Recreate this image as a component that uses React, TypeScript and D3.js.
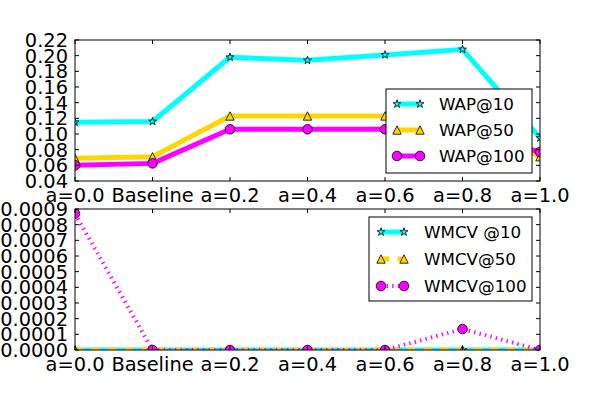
import React from "react";
import * as d3 from "d3";

const categories = ["a=0.0", "Baseline", "a=0.2", "a=0.4", "a=0.6", "a=0.8", "a=1.0"];

const wap10 = [0.115, 0.116, 0.198, 0.194, 0.201, 0.208, 0.095];
const wap50 = [0.069, 0.071, 0.123, 0.123, 0.123, 0.123, 0.071];
const wap100 = [0.06, 0.0625, 0.106, 0.106, 0.106, 0.106, 0.077];

const wmcv10 = [0, 0, 0, 0, 0, 0, 0];
const wmcv50 = [0, 0, 0, 0, 0, 0, 0];
const wmcv100 = [0.00087, 0, 0, 0, 0, 0.000134, 0];

const topTicks = [0.04, 0.06, 0.08, 0.1, 0.12, 0.14, 0.16, 0.18, 0.2, 0.22];
const bottomTicks = [0, 0.0001, 0.0002, 0.0003, 0.0004, 0.0005, 0.0006, 0.0007, 0.0008, 0.0009];

const CYAN = "#00ffff";
const GOLD = "#ffd700";
const MAGENTA = "#ff00ff";
const FONT = "DejaVu Sans";
const TICK_SIZE = 19.4;
const LEGEND_SIZE = 16.7;

type Shape = "star" | "triangle" | "circle";

function Marker({ shape, x, y, color }: { shape: Shape; x: number; y: number; color: string }) {
  if (shape === "circle") {
    return <circle cx={x} cy={y} r={4.8} fill={color} stroke="black" strokeWidth={0.8} />;
  }
  if (shape === "triangle") {
    const h = 4.2;
    return (
      <path
        d={`M${x},${y - h}L${x - h},${y + h}L${x + h},${y + h}Z`}
        fill={color}
        stroke="black"
        strokeWidth={0.8}
      />
    );
  }
  const star = d3.symbol(d3.symbolStar, 20)();
  return (
    <path d={star ?? ""} transform={`translate(${x},${y})`} fill={color} stroke="black" strokeWidth={0.8} />
  );
}

type Series = {
  name: string;
  values: number[];
  color: string;
  shape: Shape;
  width: number;
  dash?: string;
};

type Legend = {
  x0: number;
  x1: number;
  y0: number;
  y1: number;
  lineX0: number;
  lineX1: number;
  textX: number;
  rowY: number[];
};

function Panel({
  id,
  top,
  bottom,
  series,
  ticks,
  fmt,
  legend,
}: {
  id: string;
  top: number;
  bottom: number;
  series: Series[];
  ticks: number[];
  fmt: (v: number) => string;
  legend: Legend;
}) {
  const left = 75;
  const right = 540;
  const x = d3.scalePoint<string>().domain(categories).range([left, right]);
  const y = d3
    .scaleLinear()
    .domain([ticks[0], ticks[ticks.length - 1]])
    .range([bottom, top]);

  const line = d3
    .line<number>()
    .x((_, i) => x(categories[i]) as number)
    .y((d) => y(d));

  return (
    <g>
      <defs>
        <clipPath id={id}>
          <rect x={left} y={top} width={right - left} height={bottom - top} />
        </clipPath>
      </defs>
      <g clipPath={`url(#${id})`}>
        {series.map((s) => (
          <g key={s.name}>
            <path
              d={line(s.values) ?? ""}
              fill="none"
              stroke={s.color}
              strokeWidth={s.width}
              strokeDasharray={s.dash}
              strokeLinejoin="round"
            />
            {s.values.map((v, i) => (
              <Marker key={i} shape={s.shape} x={x(categories[i]) as number} y={y(v)} color={s.color} />
            ))}
          </g>
        ))}
      </g>
      <rect x={left} y={top} width={right - left} height={bottom - top} fill="none" stroke="black" strokeWidth={1} />
      {ticks.map((t) => (
        <g key={t}>
          <line x1={left} x2={left + 4} y1={y(t)} y2={y(t)} stroke="black" />
          <line x1={right - 4} x2={right} y1={y(t)} y2={y(t)} stroke="black" />
          <text x={68} y={y(t) + 7} textAnchor="end" fontSize={TICK_SIZE} fontFamily={FONT}>
            {fmt(t)}
          </text>
        </g>
      ))}
      {categories.map((c) => (
        <g key={c}>
          <line x1={x(c)} x2={x(c)} y1={bottom} y2={bottom - 4} stroke="black" />
          <line x1={x(c)} x2={x(c)} y1={top} y2={top + 4} stroke="black" />
          <text x={x(c)} y={bottom + 21} textAnchor="middle" fontSize={TICK_SIZE} fontFamily={FONT}>
            {c}
          </text>
        </g>
      ))}
      <rect
        x={legend.x0}
        y={legend.y0}
        width={legend.x1 - legend.x0}
        height={legend.y1 - legend.y0}
        fill="white"
        stroke="black"
        strokeWidth={1}
      />
      {series.map((s, i) => {
        const ry = legend.rowY[i];
        return (
          <g key={s.name}>
            <line
              x1={legend.lineX0}
              x2={legend.lineX1}
              y1={ry}
              y2={ry}
              stroke={s.color}
              strokeWidth={s.width}
              strokeDasharray={s.dash}
            />
            <Marker shape={s.shape} x={legend.lineX0} y={ry} color={s.color} />
            <Marker shape={s.shape} x={legend.lineX1} y={ry} color={s.color} />
            <text x={legend.textX} y={ry + 6} fontSize={LEGEND_SIZE} fontFamily={FONT}>
              {s.name}
            </text>
          </g>
        );
      })}
    </g>
  );
}

export default function App() {
  const topSeries: Series[] = [
    { name: "WAP@10", values: wap10, color: CYAN, shape: "star", width: 5 },
    { name: "WAP@50", values: wap50, color: GOLD, shape: "triangle", width: 5 },
    { name: "WAP@100", values: wap100, color: MAGENTA, shape: "circle", width: 5 },
  ];
  const bottomSeries: Series[] = [
    { name: "WMCV @10", values: wmcv10, color: CYAN, shape: "star", width: 5 },
    { name: "WMCV@50", values: wmcv50, color: GOLD, shape: "triangle", width: 5, dash: "8.3,8.3" },
    { name: "WMCV@100", values: wmcv100, color: MAGENTA, shape: "circle", width: 4, dash: "1.4,4.2" },
  ];

  return (
    <svg
      width={600}
      height={400}
      style={{ position: "absolute", left: 0, top: 0, background: "white" }}
    >
      <Panel
        id="clip-top"
        top={40}
        bottom={181}
        series={topSeries}
        ticks={topTicks}
        fmt={(v) => v.toFixed(2)}
        legend={{ x0: 386, x1: 532, y0: 89, y1: 173, lineX0: 397, lineX1: 420, textX: 439, rowY: [104, 130, 156] }}
      />
      <Panel
        id="clip-bottom"
        top={209}
        bottom={350}
        series={bottomSeries}
        ticks={bottomTicks}
        fmt={(v) => v.toFixed(4)}
        legend={{ x0: 369, x1: 532, y0: 217, y1: 301, lineX0: 381, lineX1: 404, textX: 424, rowY: [232, 259, 286] }}
      />
    </svg>
  );
}
